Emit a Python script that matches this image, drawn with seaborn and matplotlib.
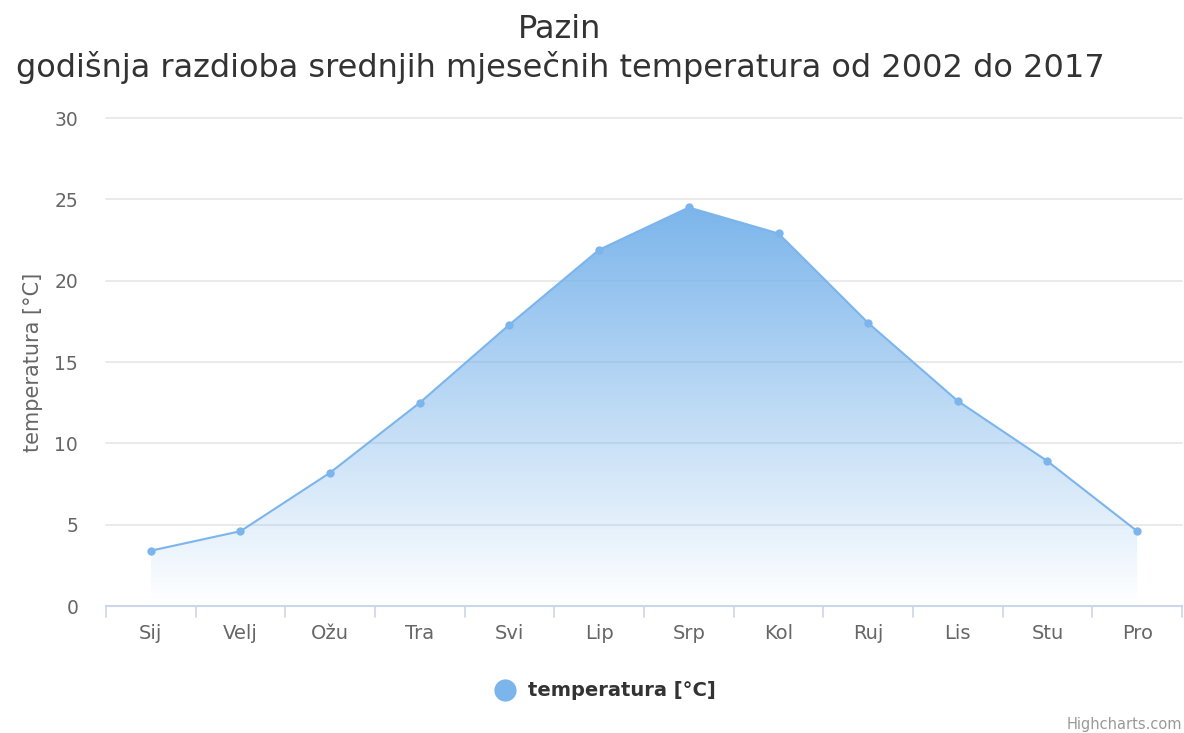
import numpy as np
import pandas as pd
import matplotlib
matplotlib.use("Agg")
import matplotlib.pyplot as plt
import seaborn as sns
from matplotlib.colors import LinearSegmentedColormap
from matplotlib.lines import Line2D

months = ["Sij", "Velj", "Ožu", "Tra", "Svi", "Lip", "Srp", "Kol", "Ruj", "Lis", "Stu", "Pro"]
temps = [3.4, 4.6, 8.2, 12.5, 17.3, 21.9, 24.5, 22.9, 17.4, 12.6, 8.9, 4.6]
yticks = [0, 5, 10, 15, 20, 25, 30]

series_color = "#7cb5ec"

sns.set_theme(style="white")
plt.rcParams["font.family"] = ["DejaVu Sans"]

df = pd.DataFrame({"mjesec": months, "temperatura": temps})
df["pos"] = np.arange(len(months))

fig = plt.figure(figsize=(11.84, 7.33), dpi=100)
ax = fig.add_axes([106 / 1184, 127 / 733, 1076 / 1184, 488 / 733])

# gradient area under the line (full colour at the peak, fading to white at 0)
fill = ax.fill_between(df["pos"], 0, df["temperatura"], color="none", lw=0)
cmap = LinearSegmentedColormap.from_list("grad", [(0.486, 0.71, 0.925, 0.0), (0.486, 0.71, 0.925, 1.0)])
grad = np.linspace(0, 1, 256).reshape(-1, 1)
img = ax.imshow(grad, cmap=cmap, aspect="auto", origin="lower",
                extent=[df["pos"].min(), df["pos"].max(), 0, df["temperatura"].max()], zorder=1)
img.set_clip_path(fill.get_paths()[0], transform=ax.transData)

sns.lineplot(data=df, x="pos", y="temperatura", ax=ax, color=series_color,
             lw=1.5, marker="o", markersize=6, markeredgewidth=0, zorder=3)

ax.set_xlim(-0.5, len(months) - 0.5)
ax.set_ylim(0, 30)
ax.set_yticks(yticks)
ax.set_yticklabels([str(t) for t in yticks], color="#666666", fontsize=13.5)
ax.yaxis.grid(True, color="#e6e6e6", lw=1.2)
for gl in ax.get_ygridlines():
    gl.set_clip_on(False)
ax.set_axisbelow(True)

ax.set_xticks(np.arange(len(months)))
ax.set_xticklabels(months, color="#666666", fontsize=14)
ax.tick_params(axis="x", length=0, pad=13)
ax.tick_params(axis="y", length=0, pad=20)
for b in np.arange(-0.5, len(months), 1):
    ax.plot([b, b], [0, -0.65], color="#ccd6eb", lw=1.2, clip_on=False, zorder=2)

for s in ["top", "right", "left"]:
    ax.spines[s].set_visible(False)
ax.spines["bottom"].set_color("#ccd6eb")
ax.spines["bottom"].set_linewidth(1.5)

ax.set_xlabel("")
ax.set_ylabel("temperatura [°C]", color="#666666", fontsize=15)
ax.yaxis.set_label_coords((33 - 106) / 1076, 0.5)
ax.yaxis.label.set_va("center")

fig.text(560 / 1184, 1 - 30 / 733, "Pazin", ha="center", va="center",
         fontsize=23, color="#333333")
fig.text(560 / 1184, 1 - 68 / 733,
         "godišnja razdioba srednjih mjesečnih temperatura od 2002 do 2017",
         ha="center", va="center", fontsize=23, color="#333333")

# legend
fig.add_artist(Line2D([505 / 1184], [1 - 690 / 733], transform=fig.transFigure,
                      marker="o", markersize=16, markeredgewidth=0, color=series_color, lw=0))
fig.text(528 / 1184, 1 - 690 / 733, "temperatura [°C]", ha="left", va="center",
         fontsize=14, fontweight="bold", color="#333333")
fig.text(1182 / 1184, 1 - 724 / 733, "Highcharts.com", ha="right", va="center",
         fontsize=10.5, color="#999999")

fig.savefig("out.png", dpi=100)
